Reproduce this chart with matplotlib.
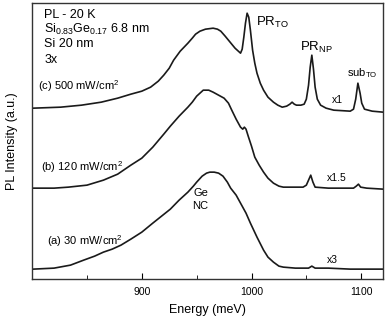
import numpy as np
import matplotlib as mpl
mpl.use('Agg')
import matplotlib.pyplot as plt

plt.rcParams['font.family'] = ['Liberation Sans', 'DejaVu Sans']
plt.rcParams['mathtext.default'] = 'regular'

# spectrum (c) 500 mW/cm2, x1
e_c = [801, 826, 845, 863, 878, 890, 900, 908, 915, 920, 925, 929, 935, 942, 946,
       949, 953, 958, 965, 969, 972, 976, 979, 982, 985, 988, 990, 991.5, 993,
       994.5, 996, 997.5, 999, 1001, 1003, 1005, 1008, 1011, 1015, 1020, 1024,
       1028, 1032, 1035, 1037, 1039, 1041, 1045, 1048, 1050, 1052, 1053.5, 1055,
       1056.5, 1058, 1060, 1063, 1068, 1075, 1090, 1093, 1095, 1097, 1099,
       1100.5, 1103, 1110, 1120]
i_c = [171, 172, 174, 177, 181, 185, 188, 192, 198, 204, 211, 219, 228, 236, 241,
       245, 248, 250, 251, 250, 248, 243, 239, 235, 231, 228, 226, 230, 242,
       256, 266, 262, 249, 229, 216, 206, 196, 189, 182, 177, 174,
       172, 173, 175, 177, 175, 174, 174, 175, 180, 194, 212, 224,
       210, 192, 180, 174, 171, 169, 168, 170, 180, 196, 186,
       176, 170, 168, 167]

# spectrum (b) 120 mW/cm2, x1.5
e_b = [801, 820, 833, 850, 865, 878, 890, 900, 910, 920, 926, 934, 942, 946, 950,
       956, 961, 965, 970, 975, 979, 982, 986, 990, 992, 993.5, 995, 997, 1000,
       1003, 1007, 1011, 1015, 1020, 1025, 1029, 1047, 1050, 1052, 1054, 1056,
       1058, 1070, 1093, 1095.5, 1097.5, 1099.5, 1105, 1120]
i_b = [91, 91, 92, 94, 99, 105, 114, 121, 132, 145, 153, 163, 172, 177, 183,
       189, 189, 187, 184, 181, 176, 169, 160, 152, 150, 152, 150, 143, 133,
       122, 114, 107, 101, 96, 93, 92, 92, 94, 99, 104, 97,
       92, 91, 91, 93, 95, 92, 91, 90]

# spectrum (a) 30 mW/cm2, x3
e_a = [801, 820, 835, 847, 857, 865, 873, 881, 890, 900, 910, 918, 926, 934, 942,
       947, 950, 955, 959, 962, 966, 970, 974, 978, 981, 986, 990, 995, 999,
       1005, 1011, 1015, 1020, 1025, 1029, 1040, 1052, 1055, 1058, 1070, 1090, 1120]
i_a = [10, 11, 14, 19, 23, 27, 30, 34, 40, 47, 56, 63, 70, 79, 87,
       93, 97, 103, 106, 107, 107, 106, 103, 97, 91, 84, 76, 66, 56,
       42, 29, 22, 17, 13, 12, 11, 11, 13, 11, 11, 10, 10]

fig = plt.figure(figsize=(3.87, 3.19), dpi=100)
ax = fig.add_axes([0.083, 0.125, 0.907, 0.865])

for e, i in [(e_c, i_c), (e_b, i_b), (e_a, i_a)]:
    ax.plot(e, i, color='#1a1a1a', linewidth=1.2, solid_joinstyle='round')

ax.set_xlim(800, 1120)
ax.set_ylim(0, 276)
ax.set_yticks([])
ax.set_xticks([900, 1000, 1100])
ax.set_xticks([850, 950, 1050], minor=True)
ax.tick_params(axis='x', which='major', direction='in', length=4, labelsize=7.5, pad=6)
ax.tick_params(axis='x', which='minor', direction='in', length=3)
for s in ax.spines.values():
    s.set_color('#333333')
    s.set_linewidth(1.0)

ax.set_xlabel('Energy (meV)', fontsize=9, labelpad=5)
ax.set_ylabel('PL Intensity (a.u.)', fontsize=9, labelpad=10)

# sample info
ax.text(811, 264, 'PL - 20 K', fontsize=9, va='center')
ax.text(811, 250, 'Si$_{0.83}$Ge$_{0.17}$ 6.8 nm', fontsize=9, va='center')
ax.text(811, 235, 'Si 20 nm', fontsize=9, va='center')
ax.text(811, 219, '3x', fontsize=9, va='center')

ax.text(805, 193, '(c) 500 mW/cm$^2$', fontsize=8, va='center')
ax.text(808, 112, '(b) 120 mW/cm$^2$', fontsize=8, va='center')
ax.text(814, 38, '(a) 30 mW/cm$^2$', fontsize=8, va='center')

ax.text(1004, 257, 'PR$_{TO}$', fontsize=9.5, va='center')
ax.text(1044, 232, 'PR$_{NP}$', fontsize=9.5, va='center')
ax.text(1087, 206, 'sub$_{TO}$', fontsize=8, va='center')

ax.text(1073, 179, 'x1', fontsize=7.5, va='center')
ax.text(1069, 101, 'x1.5', fontsize=7.5, va='center')
ax.text(1069, 19, 'x3', fontsize=7.5, va='center')

ax.text(953.5, 86, 'Ge', fontsize=8, ha='center', va='center')
ax.text(953.5, 73, 'NC', fontsize=8, ha='center', va='center')

fig.savefig('out.png', dpi=100)
